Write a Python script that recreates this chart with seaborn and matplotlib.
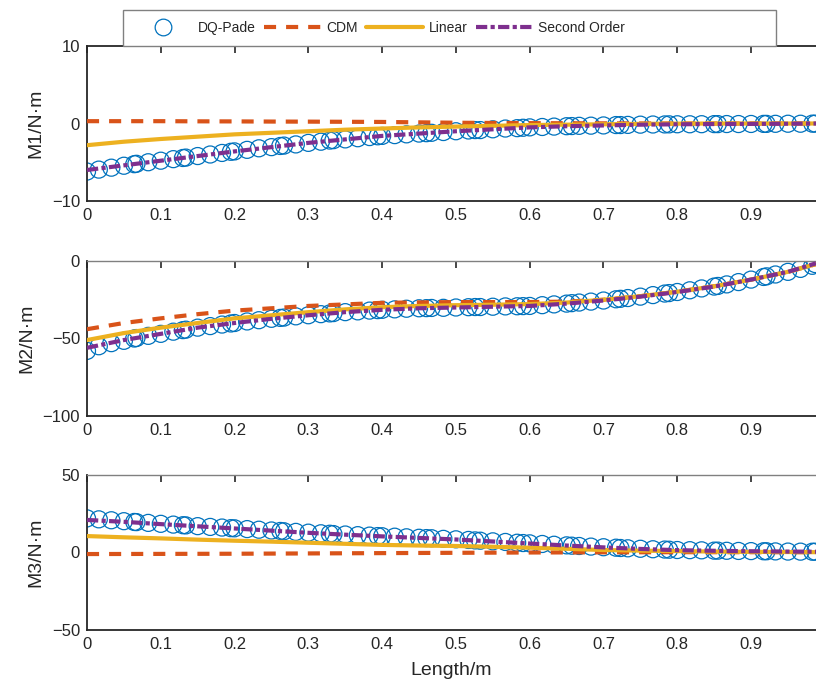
import numpy as np
import pandas as pd
import matplotlib
matplotlib.use("Agg")
import matplotlib.pyplot as plt
from matplotlib.lines import Line2D
from matplotlib.patches import Rectangle
import seaborn as sns

sns.set_style("white")
plt.rcParams['font.family'] = ['Liberation Sans', 'DejaVu Sans']
plt.rcParams['axes.unicode_minus'] = True

# ---------------- data ----------------
series_names = ["DQ-Pade", "CDM", "Linear", "Second Order"]
y_labels = ["M1/N·m", "M2/N·m", "M3/N·m"]
x_label = "Length/m"
x_ticks = [0, 0.1, 0.2, 0.3, 0.4, 0.5, 0.6, 0.7, 0.8, 0.9]
x_tick_labels = ["0", "0.1", "0.2", "0.3", "0.4", "0.5", "0.6", "0.7", "0.8", "0.9"]
y_ticks = [[-10, 0, 10], [-100, -50, 0], [-50, 0, 50]]

# x positions of the DQ-Pade nodes
x_dq = [0.000, 0.016, 0.033, 0.050, 0.064, 0.067, 0.083, 0.100, 0.117, 0.130,
        0.134, 0.150, 0.167, 0.183, 0.195, 0.200, 0.217, 0.233, 0.250, 0.262,
        0.267, 0.283, 0.300, 0.317, 0.329, 0.334, 0.350, 0.367, 0.383, 0.394,
        0.400, 0.417, 0.433, 0.450, 0.460, 0.467, 0.483, 0.500, 0.517, 0.526,
        0.533, 0.550, 0.567, 0.583, 0.591, 0.600, 0.617, 0.633, 0.650, 0.657,
        0.667, 0.683, 0.700, 0.717, 0.723, 0.733, 0.750, 0.767, 0.783, 0.789,
        0.800, 0.817, 0.833, 0.850, 0.855, 0.867, 0.883, 0.900, 0.917, 0.921,
        0.933, 0.950, 0.967, 0.983, 0.987]

m1_dq = [-6.2, -5.95, -5.7, -5.45, -5.25, -5.2, -5.0, -4.8, -4.6, -4.45,
         -4.4, -4.2, -4.0, -3.8, -3.65, -3.6, -3.4, -3.2, -3.05, -2.9,
         -2.85, -2.7, -2.5, -2.35, -2.2, -2.15, -2.05, -1.9, -1.75, -1.65,
         -1.6, -1.5, -1.4, -1.3, -1.25, -1.2, -1.1, -1.0, -0.9, -0.85,
         -0.85, -0.75, -0.65, -0.6, -0.55, -0.5, -0.45, -0.4, -0.35, -0.33,
         -0.3, -0.28, -0.25, -0.2, -0.2, -0.18, -0.15, -0.13, -0.12, -0.11,
         -0.1, -0.1, -0.09, -0.08, -0.08, -0.07, -0.07, -0.06, -0.05, -0.05,
         -0.04, -0.03, -0.03, -0.02, -0.02]

m2_dq = [-58.0, -55.0, -53.0, -51.5, -50.0, -49.7, -48.3, -47.0, -45.6, -44.6,
         -44.3, -43.0, -42.0, -41.0, -40.3, -40.0, -39.0, -38.2, -37.3, -36.7,
         -36.5, -35.7, -35.0, -34.3, -33.8, -33.6, -33.0, -32.5, -32.0, -31.7,
         -31.5, -31.2, -30.8, -30.5, -30.4, -30.3, -30.2, -30.0, -29.8, -29.7,
         -29.7, -29.5, -29.3, -29.2, -29.1, -29.0, -28.5, -28.0, -27.5, -27.2,
         -26.8, -26.2, -25.5, -24.7, -24.4, -23.9, -23.0, -22.0, -21.0, -20.7,
         -20.0, -18.9, -17.7, -16.5, -16.1, -15.1, -13.6, -12.0, -10.3, -9.9,
         -8.7, -7.0, -5.1, -3.1, -2.0]

m3_dq = [22.0, 21.4, 20.8, 20.2, 19.7, 19.6, 19.1, 18.5, 18.0, 17.6,
         17.5, 17.0, 16.5, 16.1, 15.7, 15.6, 15.1, 14.7, 14.2, 13.9,
         13.7, 13.3, 12.8, 12.4, 12.1, 11.9, 11.6, 11.2, 10.9, 10.6,
         10.5, 10.2, 9.8, 9.5, 9.3, 9.2, 8.8, 8.5, 8.1, 7.8,
         7.6, 7.2, 6.8, 6.3, 6.1, 5.9, 5.5, 5.0, 4.6, 4.4,
         4.2, 3.8, 3.4, 3.1, 2.9, 2.7, 2.4, 2.1, 1.9, 1.8,
         1.6, 1.5, 1.4, 1.2, 1.2, 1.1, 1.0, 0.9, 0.8, 0.8,
         0.7, 0.6, 0.55, 0.5, 0.5]

# x positions for the continuous curves
x_line = [0.0, 0.05, 0.1, 0.15, 0.2, 0.25, 0.3, 0.35, 0.4, 0.45, 0.5,
          0.55, 0.6, 0.65, 0.7, 0.75, 0.8, 0.85, 0.9, 0.95, 0.988]

m1_cdm = [0.3, 0.3, 0.3, 0.28, 0.27, 0.25, 0.24, 0.22, 0.2, 0.15, 0.1,
          0.07, 0.05, 0.03, 0.02, 0.01, 0.0, 0.0, 0.0, 0.0, 0.0]
m1_lin = [-2.8, -2.35, -2.0, -1.7, -1.4, -1.2, -1.0, -0.8, -0.65, -0.5, -0.4,
          -0.3, -0.2, -0.15, -0.1, -0.05, -0.02, 0.0, 0.0, 0.0, 0.0]
m1_sec = [-6.0, -5.4, -4.8, -4.2, -3.6, -3.05, -2.5, -2.05, -1.6, -1.3, -1.0,
          -0.75, -0.5, -0.35, -0.25, -0.15, -0.1, -0.07, -0.05, -0.03, 0.0]

m2_cdm = [-44.0, -40.0, -37.0, -34.3, -32.0, -30.5, -29.0, -28.0, -27.0, -26.7, -26.5,
          -26.5, -26.5, -26.2, -25.0, -22.7, -19.8, -16.3, -12.0, -7.0, -2.0]
m2_lin = [-51.0, -46.5, -43.0, -40.0, -37.0, -35.0, -33.0, -31.2, -29.8, -29.0, -28.5,
          -28.2, -27.8, -26.8, -25.0, -22.7, -19.8, -16.3, -12.0, -7.0, -2.0]
m2_sec = [-56.0, -51.0, -47.0, -43.0, -40.0, -37.3, -35.0, -33.0, -31.5, -30.5, -30.0,
          -29.5, -29.0, -27.5, -25.5, -23.0, -20.0, -16.5, -12.0, -7.0, -1.5]

m3_cdm = [-1.0, -0.95, -0.9, -0.85, -0.8, -0.7, -0.6, -0.5, -0.4, -0.3, -0.2,
          -0.1, 0.0, 0.05, 0.1, 0.15, 0.2, 0.2, 0.2, 0.2, 0.2]
m3_lin = [10.6, 9.8, 9.1, 8.3, 7.6, 7.0, 6.3, 5.6, 4.9, 4.5, 4.2,
          3.7, 3.1, 2.4, 1.6, 1.2, 0.9, 0.6, 0.4, 0.3, 0.2]
m3_sec = [21.0, 19.8, 18.3, 16.9, 15.5, 14.1, 12.7, 11.5, 10.4, 9.4, 8.4,
          7.1, 5.8, 4.5, 3.3, 2.3, 1.5, 1.1, 0.8, 0.6, 0.5]

dq_all = [m1_dq, m2_dq, m3_dq]
cdm_all = [m1_cdm, m2_cdm, m3_cdm]
lin_all = [m1_lin, m2_lin, m3_lin]
sec_all = [m1_sec, m2_sec, m3_sec]

# ---------------- style ----------------
c_dq = "#0072BD"
c_cdm = "#D95319"
c_lin = "#EDB120"
c_sec = "#7E2F8E"
lw = 3.0
dash_cdm = (0, (2.9, 2.4))
dash_sec = (0, (2.7, 0.8, 1.0, 0.8))
txt = '#262626'

W, H = 816, 682
fig = plt.figure(figsize=(W / 100, H / 100), dpi=100)

left = 87 / W
width = (W - 87) / W
axes_px = [(46, 201), (261, 416), (475, 630)]

for i in range(3):
    top_px, bot_px = axes_px[i]
    ax = fig.add_axes([left, 1 - bot_px / H, width, (bot_px - top_px) / H])
    sns.scatterplot(x=x_dq, y=dq_all[i], ax=ax, marker='o', s=150,
                    facecolors='none', edgecolor=c_dq, linewidth=0.9,
                    legend=False, zorder=2)
    sns.lineplot(x=x_line, y=cdm_all[i], ax=ax, color=c_cdm, linewidth=lw,
                 linestyle=dash_cdm, sort=False, estimator=None, legend=False, zorder=3)
    sns.lineplot(x=x_line, y=lin_all[i], ax=ax, color=c_lin, linewidth=lw,
                 linestyle='-', sort=False, estimator=None, legend=False, zorder=4)
    sns.lineplot(x=x_line, y=sec_all[i], ax=ax, color=c_sec, linewidth=lw,
                 linestyle=dash_sec, sort=False, estimator=None, legend=False, zorder=5)

    ax.set_xlim(0, 0.988)
    ax.set_ylim(y_ticks[i][0], y_ticks[i][-1])
    ax.set_xticks(x_ticks)
    ax.set_xticklabels(x_tick_labels)
    ax.set_yticks(y_ticks[i])
    ax.tick_params(direction='in', length=5, width=1.2, top=True, right=False,
                   labelsize=12, colors=txt, pad=5)
    for s in ['left', 'bottom']:
        ax.spines[s].set_color(txt)
        ax.spines[s].set_linewidth(1.3)
    ax.spines['top'].set_color(txt if i == 0 else '#808080')
    ax.spines['top'].set_linewidth(1.3 if i == 0 else 1.0)
    ax.spines['right'].set_visible(False)
    ax.set_ylabel(y_labels[i], fontsize=14, color=txt, labelpad=5)
    ax.set_xlabel(x_label if i == 2 else "", fontsize=14, color=txt, labelpad=7)
    ax.grid(False)

# legend
handles = [
    Line2D([], [], marker='o', markersize=12, markerfacecolor='none',
           markeredgecolor=c_dq, markeredgewidth=0.9, linestyle='none'),
    Line2D([], [], color=c_cdm, linewidth=lw, linestyle=dash_cdm),
    Line2D([], [], color=c_lin, linewidth=lw, linestyle='-'),
    Line2D([], [], color=c_sec, linewidth=lw, linestyle=dash_sec),
]
fig.add_artist(Rectangle((123 / W, 1 - 46 / H), (776 - 123) / W, 36 / H,
                         transform=fig.transFigure, facecolor='white',
                         edgecolor='#808080', linewidth=1.0, zorder=10))
leg = fig.legend(handles, series_names, loc='center left',
                 bbox_to_anchor=(135 / W, 1 - 28 / H), ncol=4, frameon=False,
                 fontsize=10, handlelength=4.1, handletextpad=0.4,
                 columnspacing=0.6, borderpad=0, borderaxespad=0)
leg.set_zorder(11)
for t in leg.get_texts():
    t.set_color(txt)

fig.savefig("out.png", dpi=100)
